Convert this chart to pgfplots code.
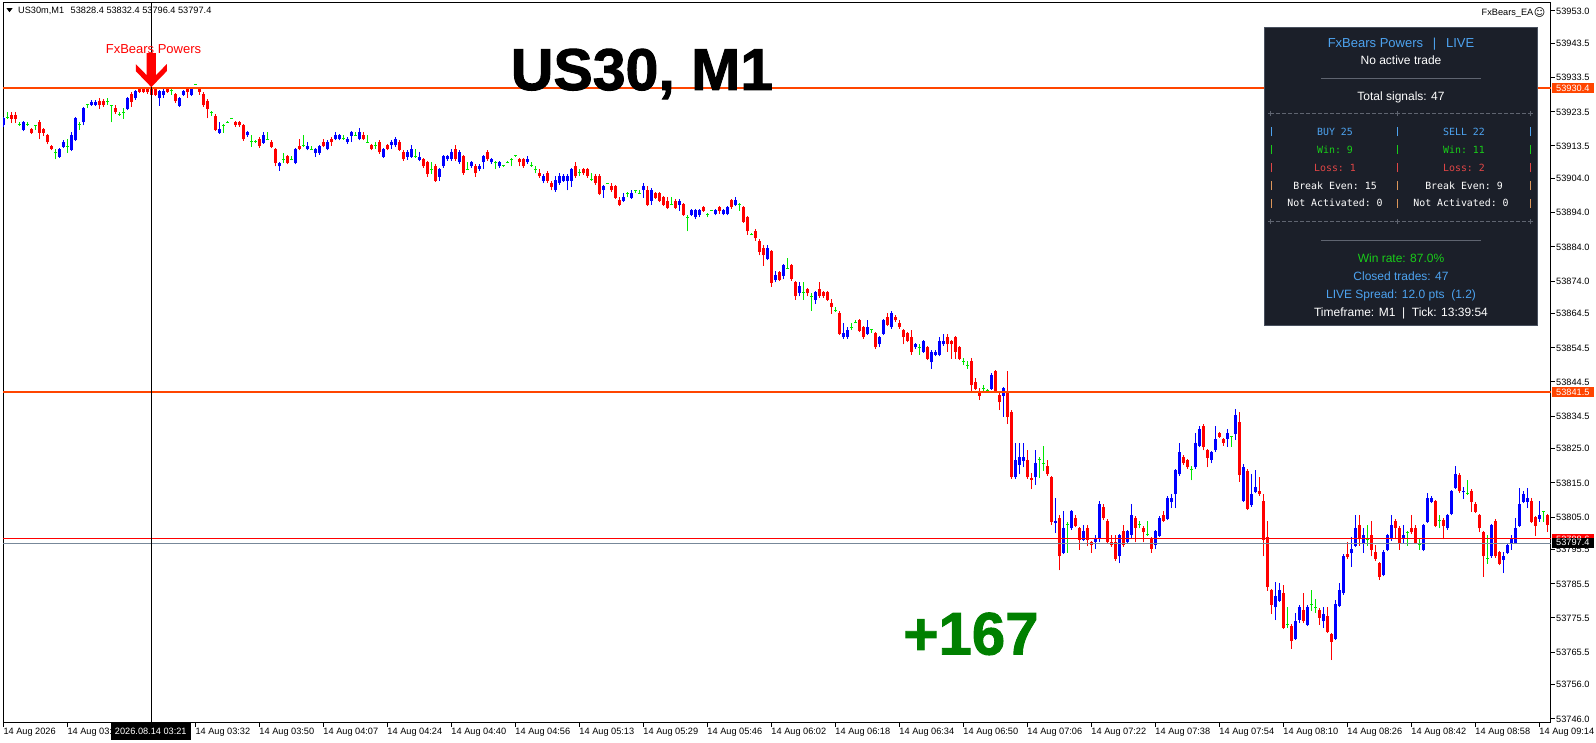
\documentclass[border=0pt]{standalone}
\usepackage{pgfplots}
\pgfplotsset{compat=1.18}
\usepackage{pgfplotstable}
\usepackage{fontspec}
\setmainfont{Liberation Sans}
\setmonofont{DejaVu Sans Mono}
\newfontfamily\symfont{DejaVu Sans}
\newfontfamily\heavyfont[FakeBold=1.6]{Liberation Sans Bold}

\definecolor{bull}{RGB}{0,0,255}
\definecolor{bear}{RGB}{255,0,0}
\definecolor{doji}{RGB}{0,230,0}
\definecolor{lvl}{RGB}{255,69,0}
\definecolor{bidline}{RGB}{119,136,153}
\definecolor{panelbg}{RGB}{27,31,41}
\definecolor{panelrim}{RGB}{72,80,94}
\definecolor{pblue}{RGB}{77,163,240}
\definecolor{pgreen}{RGB}{25,205,25}
\definecolor{pred}{RGB}{225,70,70}
\definecolor{porange}{RGB}{220,150,90}
\definecolor{pgrey}{RGB}{95,100,112}
\definecolor{bignum}{RGB}{0,128,0}

\newcommand{\axfont}{\fontsize{9.2}{10}\selectfont}
\newcommand{\pfont}{\fontsize{12}{13}\selectfont}
\newcommand{\mfont}{\ttfamily\fontsize{9.9}{11}\selectfont}

% signal arrow, tip at the point
\pgfdeclareplotmark{sigarrow}{%
  \pgfpathmoveto{\pgfpoint{0pt}{0pt}}%
  \pgfpathlineto{\pgfpoint{-15.5pt}{16pt}}%
  \pgfpathlineto{\pgfpoint{-15.5pt}{23pt}}%
  \pgfpathlineto{\pgfpoint{-4.7pt}{12pt}}%
  \pgfpathlineto{\pgfpoint{-4.7pt}{34pt}}%
  \pgfpathlineto{\pgfpoint{4.7pt}{34pt}}%
  \pgfpathlineto{\pgfpoint{4.7pt}{12pt}}%
  \pgfpathlineto{\pgfpoint{15.5pt}{23pt}}%
  \pgfpathlineto{\pgfpoint{15.5pt}{16pt}}%
  \pgfpathclose
  \pgfusepathqfill}

% US30m M1 bars: index, open, high, low, close
\pgfplotstableread{
i o h l c
0 53919.5 53922.0 53918.9 53921.6
1 53921.7 53923.4 53921.4 53921.7
2 53922.6 53923.4 53920.2 53921.4
3 53922.6 53923.4 53920.2 53921.4
4 53919.7 53920.4 53919.4 53919.7
5 53918.2 53920.9 53917.8 53920.5
6 53919.7 53920.4 53919.4 53919.7
7 53918.4 53918.8 53917.0 53917.4
8 53919.5 53919.7 53918.2 53919.5
9 53920.6 53921.0 53915.4 53917.4
10 53918.4 53918.8 53916.5 53917.4
11 53916.7 53917.1 53914.0 53914.6
12 53913.5 53913.9 53912.2 53912.6
13 53911.6 53912.6 53909.6 53911.6
14 53910.4 53913.0 53910.0 53912.6
15 53913.3 53915.1 53912.9 53914.7
16 53913.3 53915.5 53911.4 53913.3
17 53912.4 53917.6 53912.0 53916.6
18 53915.3 53922.0 53914.9 53921.6
19 53919.7 53920.5 53918.2 53919.7
20 53920.4 53924.9 53919.5 53924.5
21 53925.5 53925.5 53924.5 53925.5
22 53925.6 53926.9 53925.3 53926.4
23 53925.6 53926.9 53925.3 53926.4
24 53926.7 53927.5 53924.4 53925.4
25 53926.7 53927.1 53925.0 53925.4
26 53926.4 53927.5 53925.5 53926.4
27 53925.3 53925.5 53920.4 53925.3
28 53924.7 53925.5 53922.9 53923.3
29 53922.6 53923.4 53922.4 53922.6
30 53923.4 53924.5 53921.5 53923.4
31 53924.4 53927.9 53924.0 53927.6
32 53928.7 53929.4 53925.0 53926.4
33 53927.4 53930.0 53927.0 53929.6
34 53930.4 53930.8 53929.0 53929.4
35 53930.4 53930.8 53929.0 53929.4
36 53930.4 53930.8 53928.8 53929.2
37 53930.4 53931.0 53928.1 53928.5
38 53930.4 53930.8 53928.1 53928.5
39 53927.5 53930.0 53925.3 53929.6
40 53928.5 53930.4 53927.5 53929.6
41 53930.4 53930.8 53929.0 53929.4
42 53929.6 53930.4 53928.5 53929.6
43 53928.6 53929.0 53926.1 53926.5
44 53925.3 53927.9 53924.9 53927.5
45 53928.5 53930.0 53928.1 53929.6
46 53930.4 53930.8 53927.6 53929.4
47 53928.5 53930.8 53928.1 53930.4
48 53931.6 53931.6 53931.6 53931.6
49 53930.4 53930.8 53928.5 53929.4
50 53928.8 53929.2 53925.0 53925.4
51 53926.7 53927.1 53921.6 53924.3
52 53923.4 53923.6 53922.4 53923.4
53 53922.4 53922.8 53917.9 53918.3
54 53917.4 53920.6 53917.0 53918.5
55 53919.5 53919.8 53917.4 53919.5
56 53920.5 53920.7 53920.3 53920.5
57 53921.6 53921.7 53921.5 53921.6
58 53920.5 53920.9 53919.1 53919.5
59 53920.5 53920.9 53919.1 53919.5
60 53919.5 53919.9 53915.0 53915.4
61 53916.6 53918.0 53916.2 53917.6
62 53914.8 53916.7 53913.3 53914.8
63 53914.8 53915.2 53914.4 53914.8
64 53915.6 53916.0 53913.0 53913.4
65 53914.5 53917.5 53914.1 53916.7
66 53915.5 53917.5 53915.2 53915.5
67 53914.7 53915.1 53912.9 53913.3
68 53912.6 53913.0 53907.5 53908.5
69 53907.5 53908.9 53906.3 53908.5
70 53909.6 53911.5 53908.5 53909.6
71 53910.6 53911.0 53908.1 53908.5
72 53909.6 53910.6 53909.3 53909.6
73 53908.5 53913.0 53908.1 53912.6
74 53913.5 53915.6 53912.2 53912.6
75 53913.5 53916.7 53913.2 53913.5
76 53912.6 53914.7 53912.2 53913.5
77 53912.6 53913.5 53912.4 53912.6
78 53911.4 53913.0 53910.4 53912.6
79 53911.4 53913.9 53911.0 53913.5
80 53914.7 53915.6 53913.1 53913.5
81 53912.6 53915.1 53912.2 53914.7
82 53915.6 53916.0 53913.5 53914.6
83 53915.5 53917.6 53915.1 53916.7
84 53915.5 53917.1 53915.1 53916.7
85 53915.6 53916.7 53915.3 53915.6
86 53914.6 53916.0 53914.2 53915.6
87 53916.5 53917.9 53914.6 53917.5
88 53916.7 53917.5 53916.4 53916.7
89 53915.5 53918.8 53915.1 53917.7
90 53916.7 53917.6 53915.1 53915.5
91 53914.6 53916.7 53914.3 53914.6
92 53913.7 53914.1 53912.2 53912.6
93 53913.7 53914.6 53912.6 53913.7
94 53914.7 53915.1 53911.2 53911.6
95 53910.4 53913.0 53910.0 53912.6
96 53913.7 53914.1 53912.2 53912.6
97 53913.7 53915.1 53912.6 53914.7
98 53913.7 53916.0 53913.3 53915.6
99 53914.7 53915.1 53912.0 53912.4
100 53911.8 53912.2 53909.2 53909.6
101 53910.4 53912.2 53909.4 53911.8
102 53910.4 53913.8 53910.0 53912.6
103 53910.4 53912.6 53910.1 53910.4
104 53909.4 53911.8 53909.0 53910.4
105 53909.6 53910.0 53907.1 53907.5
106 53908.7 53909.1 53904.5 53905.3
107 53906.7 53908.7 53905.3 53906.7
108 53907.7 53908.1 53903.0 53903.4
109 53904.5 53907.1 53903.4 53906.7
110 53907.5 53911.0 53907.1 53910.6
111 53909.6 53911.0 53909.2 53910.6
112 53909.6 53912.6 53909.2 53911.8
113 53912.6 53913.8 53909.2 53909.6
114 53908.7 53912.2 53908.3 53911.8
115 53910.6 53911.0 53905.1 53905.5
116 53906.7 53908.7 53906.4 53906.7
117 53907.5 53909.1 53907.1 53908.7
118 53907.7 53908.1 53904.5 53905.5
119 53906.7 53908.1 53906.3 53907.7
120 53908.7 53911.0 53906.7 53910.6
121 53911.8 53912.2 53909.2 53909.6
122 53908.7 53910.0 53908.3 53909.6
123 53908.7 53909.0 53906.7 53908.7
124 53907.5 53909.1 53907.1 53908.7
125 53907.7 53908.0 53907.4 53907.7
126 53908.7 53909.0 53908.4 53908.7
127 53909.6 53909.9 53907.5 53909.6
128 53910.6 53910.8 53910.4 53910.6
129 53909.6 53910.0 53907.5 53908.7
130 53909.6 53910.0 53907.1 53907.5
131 53908.7 53910.6 53908.3 53909.6
132 53907.7 53908.7 53907.4 53907.7
133 53906.7 53907.7 53905.5 53906.7
134 53905.7 53906.7 53904.2 53904.6
135 53903.4 53905.2 53902.6 53904.8
136 53905.7 53906.1 53902.6 53903.4
137 53902.8 53903.2 53900.5 53901.6
138 53900.5 53904.8 53900.1 53903.6
139 53902.6 53905.7 53902.2 53904.8
140 53903.4 53905.2 53903.0 53904.8
141 53903.4 53905.2 53900.5 53904.8
142 53903.4 53907.2 53901.6 53906.8
143 53907.7 53908.9 53904.2 53904.6
144 53905.7 53906.7 53904.6 53905.7
145 53906.8 53907.2 53905.1 53905.5
146 53906.8 53907.2 53904.2 53904.6
147 53903.6 53905.7 53903.3 53903.6
148 53904.8 53905.2 53902.2 53902.6
149 53904.8 53905.2 53899.1 53899.5
150 53900.5 53902.2 53898.4 53901.8
151 53902.6 53902.8 53902.4 53902.6
152 53901.8 53902.8 53900.1 53900.5
153 53901.8 53902.2 53898.0 53898.4
154 53897.7 53898.5 53895.9 53896.3
155 53897.5 53899.7 53897.1 53898.5
156 53899.7 53900.0 53898.5 53899.7
157 53898.4 53900.7 53898.0 53899.7
158 53900.5 53900.7 53899.7 53900.5
159 53899.7 53900.5 53899.5 53899.7
160 53900.5 53902.6 53898.4 53901.8
161 53900.7 53901.8 53895.9 53896.3
162 53897.5 53901.1 53896.3 53900.7
163 53899.7 53900.1 53898.0 53898.4
164 53899.7 53900.1 53897.1 53897.5
165 53898.5 53898.9 53895.9 53896.3
166 53897.5 53898.5 53895.0 53895.4
167 53896.5 53898.5 53896.2 53896.5
168 53897.5 53897.9 53895.0 53895.4
169 53896.3 53897.9 53894.6 53897.5
170 53896.5 53896.9 53893.0 53893.4
171 53892.6 53893.4 53888.5 53892.6
172 53893.4 53895.2 53893.0 53894.8
173 53892.6 53895.2 53892.2 53894.8
174 53893.4 53895.2 53892.6 53894.8
175 53895.6 53896.0 53894.2 53894.6
176 53893.6 53893.8 53892.6 53893.6
177 53894.6 53894.7 53894.5 53894.6
178 53893.6 53895.2 53893.2 53894.8
179 53895.6 53896.0 53893.6 53894.6
180 53893.6 53895.2 53893.2 53894.8
181 53893.6 53896.0 53893.2 53895.6
182 53897.7 53898.1 53895.2 53895.6
183 53896.3 53898.5 53895.9 53897.7
184 53896.5 53896.7 53894.6 53896.5
185 53895.6 53896.0 53891.0 53891.4
186 53892.7 53893.1 53887.5 53888.5
187 53887.7 53888.0 53887.4 53887.7
188 53888.7 53889.1 53885.8 53886.5
189 53885.8 53886.2 53881.5 53882.6
190 53883.6 53884.6 53878.5 53881.5
191 53880.5 53884.6 53880.1 53883.6
192 53882.8 53883.2 53872.4 53873.4
193 53874.4 53876.8 53873.6 53875.8
194 53876.6 53877.0 53874.0 53874.4
195 53875.6 53879.1 53874.5 53878.7
196 53877.8 53880.7 53877.5 53877.8
197 53878.7 53879.1 53874.1 53874.5
198 53873.7 53874.1 53868.5 53869.5
199 53870.6 53873.7 53869.5 53872.6
200 53870.7 53873.7 53868.5 53870.7
201 53871.6 53872.0 53869.5 53870.4
202 53869.5 53870.4 53865.3 53869.5
203 53868.5 53871.1 53867.3 53870.7
204 53871.6 53873.7 53869.1 53869.5
205 53870.7 53871.1 53869.1 53869.5
206 53870.7 53871.1 53868.1 53868.5
207 53867.7 53868.7 53864.4 53866.5
208 53865.4 53866.5 53865.1 53865.4
209 53864.8 53865.2 53858.2 53858.6
210 53857.6 53861.7 53857.2 53858.8
211 53857.6 53860.7 53857.2 53859.7
212 53860.5 53861.7 53859.7 53860.5
213 53861.9 53862.6 53861.7 53861.9
214 53862.6 53863.0 53859.1 53859.5
215 53860.5 53860.9 53857.2 53857.6
216 53858.6 53862.6 53858.2 53860.5
217 53859.7 53860.0 53858.8 53859.7
218 53858.8 53859.2 53854.2 53854.6
219 53855.5 53858.0 53854.6 53857.6
220 53858.6 53863.0 53858.2 53862.6
221 53863.6 53864.8 53860.8 53861.2
222 53860.5 53865.2 53860.1 53864.8
223 53863.6 53864.0 53862.1 53862.5
224 53861.7 53862.6 53860.1 53860.5
225 53859.7 53860.1 53855.5 53857.6
226 53858.8 53859.2 53856.1 53856.5
227 53857.6 53859.7 53852.4 53853.4
228 53854.6 53855.9 53854.2 53855.5
229 53854.6 53855.5 53852.4 53854.6
230 53853.4 53856.9 53853.0 53856.5
231 53854.6 53855.0 53850.9 53851.3
232 53850.3 53853.8 53848.3 53853.4
233 53852.4 53853.8 53852.0 53853.4
234 53852.4 53857.6 53852.0 53856.5
235 53855.5 53858.6 53855.1 53856.5
236 53857.6 53858.6 53853.4 53855.5
237 53856.5 53856.9 53851.3 53855.5
238 53857.6 53858.0 53851.3 53853.4
239 53854.6 53855.0 53850.9 53851.3
240 53850.5 53851.4 53849.5 53850.5
241 53849.3 53850.5 53848.3 53849.3
242 53850.5 53851.4 53842.0 53843.5
243 53844.6 53845.8 53842.1 53842.5
244 53841.7 53842.7 53839.2 53840.5
245 53842.7 53843.6 53841.7 53842.7
246 53842.0 53842.5 53841.7 53842.0
247 53842.5 53847.0 53842.1 53846.6
248 53847.7 53848.1 53841.3 53841.7
249 53840.7 53841.7 53836.3 53838.5
250 53840.5 53843.1 53834.4 53842.7
251 53841.7 53847.7 53832.2 53834.4
252 53835.8 53836.2 53816.2 53816.6
253 53816.6 53826.8 53816.2 53821.7
254 53820.3 53826.8 53817.5 53822.5
255 53821.4 53826.8 53819.5 53822.5
256 53821.7 53824.6 53816.2 53816.6
257 53816.4 53817.8 53813.1 53815.9
258 53816.6 53824.6 53814.4 53820.7
259 53821.9 53822.7 53816.5 53821.9
260 53820.7 53825.8 53818.6 53820.7
261 53819.8 53821.7 53817.1 53817.5
262 53816.6 53817.0 53802.7 53803.7
263 53803.2 53810.7 53800.3 53803.9
264 53804.6 53805.6 53789.4 53793.5
265 53794.6 53806.8 53794.2 53801.9
266 53802.7 53803.7 53794.6 53802.7
267 53801.7 53807.2 53801.3 53806.8
268 53804.8 53805.6 53802.0 53802.4
269 53801.7 53802.1 53795.4 53798.3
270 53798.3 53802.7 53797.9 53800.8
271 53801.7 53802.7 53796.4 53798.3
272 53797.6 53798.0 53794.6 53796.7
273 53797.6 53799.8 53795.7 53798.6
274 53798.6 53809.8 53797.6 53808.8
275 53807.9 53808.8 53804.2 53804.6
276 53803.9 53804.3 53797.2 53797.6
277 53797.6 53799.8 53796.3 53796.7
278 53797.6 53799.8 53792.3 53792.7
279 53793.5 53800.2 53791.5 53799.8
280 53800.8 53802.7 53796.3 53796.7
281 53797.6 53801.2 53797.2 53800.8
282 53799.8 53808.8 53798.6 53805.6
283 53804.8 53805.2 53797.6 53801.9
284 53802.7 53803.9 53801.7 53802.7
285 53801.9 53802.3 53797.6 53800.5
286 53799.8 53803.9 53799.5 53799.8
287 53798.8 53799.2 53794.6 53795.6
288 53796.7 53801.2 53795.6 53800.8
289 53799.6 53805.2 53799.2 53804.8
290 53805.6 53806.8 53803.5 53803.9
291 53804.5 53811.1 53804.1 53810.7
292 53809.5 53811.7 53807.6 53810.7
293 53811.7 53819.2 53807.6 53818.8
294 53817.5 53826.8 53817.1 53823.9
295 53822.7 53823.1 53820.3 53820.7
296 53821.7 53822.1 53819.1 53819.5
297 53818.8 53819.8 53815.7 53818.8
298 53819.5 53829.5 53819.1 53826.8
299 53825.8 53831.7 53825.4 53830.7
300 53831.7 53832.1 53824.5 53825.4
301 53824.6 53825.0 53819.5 53822.4
302 53821.7 53824.3 53820.7 53823.9
303 53824.5 53831.7 53824.1 53827.8
304 53829.5 53829.9 53828.1 53828.5
305 53827.8 53828.2 53825.8 53826.6
306 53827.8 53830.7 53825.6 53829.5
307 53828.5 53828.8 53825.6 53828.5
308 53829.2 53836.5 53827.6 53834.9
309 53832.9 53835.6 53815.4 53817.3
310 53809.8 53820.6 53809.4 53819.6
311 53818.6 53819.0 53807.0 53807.4
312 53808.4 53817.5 53808.0 53811.8
313 53812.4 53818.8 53812.0 53813.9
314 53812.7 53816.6 53811.3 53811.7
315 53809.7 53811.7 53793.5 53798.3
316 53799.3 53803.9 53783.5 53784.7
317 53783.7 53784.1 53776.6 53779.3
318 53778.6 53786.1 53774.9 53781.8
319 53780.6 53785.8 53780.2 53783.7
320 53782.9 53785.0 53772.3 53772.7
321 53773.7 53778.6 53772.7 53773.7
322 53773.2 53773.6 53766.5 53768.7
323 53769.5 53776.9 53769.1 53774.6
324 53775.0 53779.2 53774.0 53778.8
325 53777.9 53782.7 53774.0 53774.5
326 53773.5 53779.2 53773.1 53778.8
327 53779.5 53783.7 53777.6 53779.5
328 53778.5 53781.0 53777.1 53778.5
329 53777.9 53778.3 53773.5 53775.6
330 53774.5 53778.6 53772.7 53776.7
331 53776.1 53778.8 53771.1 53771.5
332 53770.7 53771.1 53763.2 53768.6
333 53769.4 53780.8 53769.0 53779.5
334 53779.1 53785.7 53778.7 53783.7
335 53782.7 53794.1 53782.3 53793.7
336 53794.2 53797.8 53792.7 53793.3
337 53794.4 53799.3 53790.5 53795.7
338 53796.6 53805.6 53796.2 53801.7
339 53802.7 53805.6 53796.6 53798.5
340 53797.5 53801.9 53794.6 53799.8
341 53798.5 53802.7 53796.6 53798.5
342 53799.8 53803.9 53793.5 53795.4
343 53794.9 53796.9 53792.3 53792.7
344 53791.5 53791.9 53786.6 53787.6
345 53788.1 53795.3 53787.7 53794.9
346 53795.4 53800.2 53795.0 53799.8
347 53798.5 53805.6 53798.1 53802.7
348 53803.9 53804.3 53798.5 53801.7
349 53801.9 53802.3 53795.4 53797.5
350 53798.5 53802.7 53797.5 53799.8
351 53800.5 53800.8 53796.6 53800.5
352 53801.7 53805.6 53800.1 53800.5
353 53801.7 53802.7 53797.1 53797.5
354 53796.9 53798.5 53795.4 53796.9
355 53795.4 53803.1 53795.0 53802.7
356 53803.7 53812.0 53803.3 53810.5
357 53809.5 53811.2 53809.1 53810.5
358 53809.7 53810.1 53802.0 53802.4
359 53803.9 53805.6 53801.7 53803.9
360 53804.2 53804.6 53798.5 53802.4
361 53801.7 53806.0 53801.3 53805.6
362 53805.9 53813.0 53805.5 53812.7
363 53813.6 53819.8 53813.2 53817.5
364 53817.3 53817.8 53812.0 53812.5
365 53812.2 53813.9 53810.3 53812.7
366 53811.8 53815.9 53811.5 53811.8
367 53812.7 53813.1 53806.6 53809.5
368 53808.9 53809.3 53806.2 53806.6
369 53805.6 53806.0 53800.5 53801.7
370 53800.6 53801.0 53787.6 53793.5
371 53792.8 53799.8 53791.3 53792.8
372 53793.5 53803.1 53793.1 53802.7
373 53803.9 53804.3 53793.1 53793.5
374 53794.7 53795.1 53790.9 53791.3
375 53792.5 53794.7 53788.6 53793.5
376 53794.6 53797.3 53794.2 53796.9
377 53797.5 53799.8 53795.4 53798.8
378 53797.5 53804.7 53797.1 53801.9
379 53802.4 53813.6 53802.0 53808.8
380 53809.5 53812.5 53809.1 53811.7
381 53809.5 53813.6 53807.6 53810.7
382 53809.7 53810.7 53803.3 53803.7
383 53804.9 53805.3 53799.6 53802.5
384 53804.5 53809.7 53803.7 53805.6
385 53806.6 53806.8 53803.7 53806.6
386 53805.6 53806.0 53800.6 53802.7
}\bars

\pgfplotsset{
  candle/.style 2 args={draw=none, mark=none, forget plot,
    error bars/y dir=plus, error bars/y explicit, error bars/error mark=none,
    error bars/error bar style={draw=#1, line width=#2, line cap=butt}},
  isup/.style={restrict expr to domain={\thisrow{c}-\thisrow{o}}{0.05:1000}},
  isdown/.style={restrict expr to domain={\thisrow{c}-\thisrow{o}}{-1000:-0.05}},
  isflat/.style={restrict expr to domain={\thisrow{c}-\thisrow{o}}{-0.05:0.05}},
}

\begin{document}
\begin{tikzpicture}[x=1pt,y=1pt]
\useasboundingbox (0,0) rectangle (1596,743);
\begin{axis}[
  at={(3pt,20pt)}, anchor=south west,
  scale only axis, width=1548pt, height=720pt,
  xmin=-0.075, xmax=386.925,
  ymin=53744.8, ymax=53955.3,
  axis line style={black, line width=1pt},
  tick align=outside, major tick length=4pt,
  tick style={black, line width=1pt},
  xtick pos=bottom, ytick pos=right, yticklabel pos=right,
  scaled y ticks=false,
  xtick={0,16,...,384},
  xticklabels={14 Aug 2026, 14 Aug 03:05, 14 Aug 03:16, 14 Aug 03:32,
    14 Aug 03:50, 14 Aug 04:07, 14 Aug 04:24, 14 Aug 04:40, 14 Aug 04:56,
    14 Aug 05:13, 14 Aug 05:29, 14 Aug 05:46, 14 Aug 06:02, 14 Aug 06:18,
    14 Aug 06:34, 14 Aug 06:50, 14 Aug 07:06, 14 Aug 07:22, 14 Aug 07:38,
    14 Aug 07:54, 14 Aug 08:10, 14 Aug 08:26, 14 Aug 08:42, 14 Aug 08:58,
    14 Aug 09:14},
  xticklabel style={anchor=north west, inner sep=0pt, text height=6.6pt,
    text depth=2pt, font=\axfont, yshift=-1pt},
  ytick={53953.0,53943.5,53933.5,53923.5,53913.5,53904.0,53894.0,53884.0,
    53874.0,53864.5,53854.5,53844.5,53834.5,53825.0,53815.0,53805.0,
    53795.5,53785.5,53775.5,53765.5,53756.0,53746.0},
  yticklabels={53953.0,53943.5,53933.5,53923.5,53913.5,53904.0,53894.0,
    53884.0,53874.0,53864.5,53854.5,53844.5,53834.5,53825.0,53815.0,
    53805.0,53795.5,53785.5,53775.5,53765.5,53756.0,53746.0},
  yticklabel style={anchor=west, inner sep=0pt, text height=6.6pt,
    text depth=0pt, font=\axfont, xshift=1pt},
]
% wicks
\addplot[candle={bull}{1pt}, isup] table[x=i, y=l,
  y error plus expr={\thisrow{h}-\thisrow{l}}] {\bars};
\addplot[candle={bear}{1pt}, isdown] table[x=i, y=l,
  y error plus expr={\thisrow{h}-\thisrow{l}}] {\bars};
\addplot[candle={doji}{1pt}, isflat] table[x=i, y=l,
  y error plus expr={\thisrow{h}-\thisrow{l}}] {\bars};
% bodies
\addplot[candle={bull}{3pt}, isup] table[x=i, y=o,
  y error plus expr={\thisrow{c}-\thisrow{o}}] {\bars};
\addplot[candle={bear}{3pt}, isdown] table[x=i, y=c,
  y error plus expr={\thisrow{o}-\thisrow{c}}] {\bars};
\addplot[only marks, mark=-, mark size=1.6pt, doji, forget plot,
  mark options={line width=1pt}, isflat] table[x=i, y=c] {\bars};

% levels, bid / ask
\addplot[lvl, line width=2pt, forget plot] coordinates {(-5,53930.4) (400,53930.4)};
\addplot[lvl, line width=2pt, forget plot] coordinates {(-5,53841.5) (400,53841.5)};
\addplot[bear, line width=1pt, forget plot] coordinates {(-5,53798.6) (400,53798.6)};
\addplot[bidline, line width=1pt, forget plot] coordinates {(-5,53797.4) (400,53797.4)};
% crosshair at the signal bar
\addplot[black, line width=1pt, forget plot] coordinates {(37,53700) (37,54000)};
% signal arrow
\addplot[only marks, mark=sigarrow, bear, forget plot] coordinates {(37,53930.7)};
\end{axis}

% header texts
\fill (6.5,734.8) -- (12.5,734.8) -- (9.5,730.8) -- cycle;
\node[anchor=base west, inner sep=0pt, font=\axfont] at (18,729)
  {US30m,M1\hspace{6.5pt}53828.4 53832.4 53796.4 53797.4};
\node[anchor=base east, inner sep=0pt, font=\axfont] at (1533.5,727.4) {FxBears\_EA};
\node[inner sep=0pt, font=\symfont\fontsize{11}{12}\selectfont] at (1539.5,730.7) {☺};

\node[anchor=base, inner sep=0pt, bear, font=\fontsize{13}{14}\selectfont] at (153.5,689) {FxBears Powers};
\node[anchor=base, inner sep=0pt, font=\heavyfont\fontsize{59}{62}\selectfont] at (642,653) {US30, M1};
\node[anchor=base, inner sep=0pt, bignum, font=\heavyfont\fontsize{60}{63}\selectfont] at (971,88.5) {+167};

% price labels on the scale
\fill[lvl] (1552,649.7) rectangle (1594,659.7);
\node[anchor=base west, inner sep=0pt, white, font=\axfont] at (1556,651.4) {53930.4};
\fill[lvl] (1552,345.7) rectangle (1594,355.7);
\node[anchor=base west, inner sep=0pt, white, font=\axfont] at (1556,347.4) {53841.5};
\fill[bear] (1552,199) rectangle (1594,209);
\node[anchor=base west, inner sep=0pt, white, font=\axfont] at (1556,200.7) {53798.6};
\fill[black] (1552,195.3) rectangle (1594,205.3);
\node[anchor=base west, inner sep=0pt, white, font=\axfont] at (1556,197) {53797.4};

% crosshair time box
\fill[black] (111,3) rectangle (190.5,19.5);
\node[anchor=base, inner sep=0pt, white, font=\axfont] at (150.8,8) {2026.08.14 03:21};

% statistics panel
\fill[panelbg] (1264.3,417.3) rectangle (1537.3,715.3);
\draw[panelrim, line width=1pt] (1264.3,417.3) rectangle (1537.3,715.3);
\node[anchor=base, inner sep=0pt, pblue, font=\fontsize{13}{14}\selectfont] at (1401,695)
  {FxBears Powers\hspace{0.75em}|\hspace{0.75em}LIVE};
\node[anchor=base, inner sep=0pt, white, font=\pfont] at (1401,678.7) {No active trade};
\draw[pgrey, line width=1pt] (1321,664.7) -- (1480.7,664.7);
\node[anchor=base, inner sep=0pt, white, font=\pfont] at (1401,642) {Total signals: 47};
\foreach \yy in {629.7,521.3}{
  \draw[pgrey, line width=1pt, dash pattern=on 4pt off 2pt] (1270,\yy) -- (1530,\yy);
  \foreach \xx in {1270.5,1397.5,1530}
    \draw[pgrey, line width=1pt] (\xx-2.5,\yy) -- (\xx+2.5,\yy) (\xx,\yy-2.5) -- (\xx,\yy+2.5);
}
\foreach \yy/\cc in {611.3/pblue,593.3/pgreen,575.3/pred,557.3/porange,539.7/porange}
  \foreach \xx in {1271.7,1397.7,1530}
    \draw[\cc, line width=1pt] (\xx,\yy-4.5) -- (\xx,\yy+4.5);
\node[anchor=base, inner sep=0pt, pblue, font=\mfont] at (1335,607.7) {BUY 25};
\node[anchor=base, inner sep=0pt, pblue, font=\mfont] at (1464,607.7) {SELL 22};
\node[anchor=base, inner sep=0pt, pgreen, font=\mfont] at (1335,589.7) {Win: 9};
\node[anchor=base, inner sep=0pt, pgreen, font=\mfont] at (1464,589.7) {Win: 11};
\node[anchor=base, inner sep=0pt, pred, font=\mfont] at (1335,571.7) {Loss: 1};
\node[anchor=base, inner sep=0pt, pred, font=\mfont] at (1464,571.7) {Loss: 2};
\node[anchor=base, inner sep=0pt, white, font=\mfont] at (1335,553.7) {Break Even: 15};
\node[anchor=base, inner sep=0pt, white, font=\mfont] at (1464,553.7) {Break Even: 9};
\node[anchor=base, inner sep=0pt, white, font=\mfont] at (1335,536.1) {Not Activated: 0};
\node[anchor=base, inner sep=0pt, white, font=\mfont] at (1461,536.1) {Not Activated: 0};
\draw[pgrey, line width=1pt] (1321,502) -- (1480.7,502);
\node[anchor=base, inner sep=0pt, pgreen, font=\pfont] at (1401,480.4) {Win rate: 87.0\%};
\node[anchor=base, inner sep=0pt, pblue, font=\pfont] at (1401,462.7) {Closed trades: 47};
\node[anchor=base, inner sep=0pt, pblue, font=\pfont] at (1401,444.4) {LIVE Spread: 12.0 pts\ \ (1.2)};
\node[anchor=base, inner sep=0pt, white, font=\pfont] at (1401,426.4) {Timeframe: M1\ \ |\ \ Tick: 13:39:54};
\end{tikzpicture}
\end{document}
